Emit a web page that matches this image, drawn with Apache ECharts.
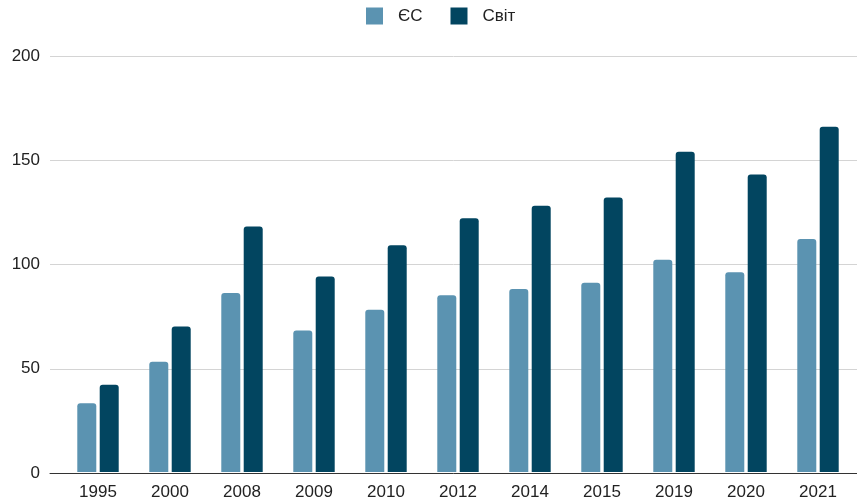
<!DOCTYPE html>
<html><head><meta charset="utf-8">
<script src="https://cdn.jsdelivr.net/npm/echarts@6/dist/echarts.min.js"></script>
<style>html,body{margin:0;padding:0;background:#fff}#c{width:857px;height:501px}</style>
</head><body><div id="c"></div>
<script>
const categories = ['1995','2000','2008','2009','2010','2012','2014','2015','2019','2020','2021'];
const euValues = [33, 53, 86, 68, 78, 85, 88, 91, 102, 96, 112];
const worldValues = [42, 70, 118, 94, 109, 122, 128, 132, 154, 143, 166];
const yTicks = [0, 50, 100, 150, 200];
const seriesNames = ['ЄС', 'Світ'];

const chart = echarts.init(document.getElementById('c'));
const font = 'Liberation Sans, Arial, sans-serif';
chart.setOption({
  animation: false,
  legend: {
    top: 4, left: 366, padding: 0, itemWidth: 17, itemHeight: 17, itemGap: 28,
    icon: 'rect',
    textStyle: {fontFamily: font, fontSize: 17, color: '#222', padding: [0, 0, 0, 10], lineHeight: 24},
    data: seriesNames
  },
  grid: [
    {left: 62, right: 3, top: 56, bottom: 28},
    {left: 50, right: 0, top: 56, bottom: 28}
  ],
  xAxis: [
    {gridIndex: 0, type: 'category', data: categories,
     axisLine: {show: false}, axisTick: {show: false},
     axisLabel: {fontFamily: font, fontSize: 17, color: '#222', margin: 12}},
    {gridIndex: 1, type: 'value', min: 0, max: 1,
     axisLine: {show: true, lineStyle: {color: '#333', width: 1}},
     axisTick: {show: false}, axisLabel: {show: false}, splitLine: {show: false}}
  ],
  yAxis: [
    {gridIndex: 0, type: 'value', min: 0, max: 200, interval: 50, show: false},
    {gridIndex: 1, type: 'value', min: yTicks[0], max: yTicks[yTicks.length-1], interval: 50,
     axisLine: {show: false}, axisTick: {show: false},
     axisLabel: {fontFamily: font, fontSize: 17, color: '#222', margin: 10},
     splitLine: {lineStyle: {color: '#d4d4d4', width: 1}}}
  ],
  series: [
    {name: seriesNames[0], type: 'bar', xAxisIndex: 0, yAxisIndex: 0, data: euValues,
     barWidth: 19, barGap: '18%',
     itemStyle: {color: '#5b93b1', borderRadius: [3,3,0,0]}},
    {name: seriesNames[1], type: 'bar', xAxisIndex: 0, yAxisIndex: 0, data: worldValues,
     barWidth: 19, barGap: '18%',
     itemStyle: {color: '#024560', borderRadius: [3,3,0,0]}}
  ]
});
</script></body></html>
